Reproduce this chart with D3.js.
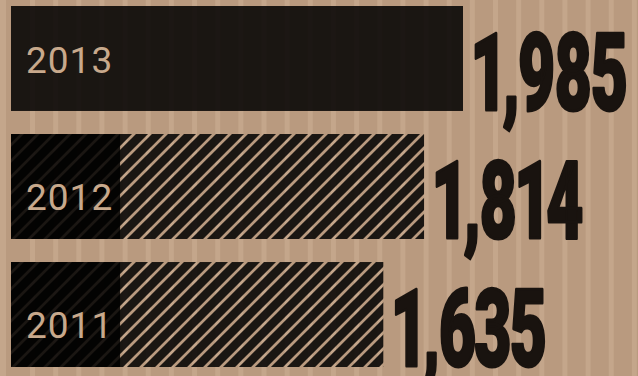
<!DOCTYPE html>
<html>
<head>
<meta charset="utf-8">
<script src="https://cdn.jsdelivr.net/npm/d3@7"></script>
<style>
  html, body { margin: 0; padding: 0; background: #b99a7f; }
  svg { display: block; }
</style>
</head>
<body>
<svg id="chart" width="638" height="376"></svg>
<script>
// Yearly totals, newest first
const years = ["2013", "2012", "2011"];
const totals = [1985, 1814, 1635];
// Fill style per year: the latest year is solid, earlier years are hatched
const fillStyles = ["solid", "hatched", "hatched"];
// Value covered by the darker lead-in block on hatched bars
const leadValues = [0, 479, 479];

const W = 638, H = 376;
const svg = d3.select("#chart");

const rows = years.map((year, i) => ({
  year, total: totals[i], style: fillStyles[i], lead: leadValues[i]
}));

const x = d3.scaleLinear().domain([0, 1985]).range([11, 463]);
const y = d3.scaleBand().domain(years).range([6, 367]).paddingInner(0.18).paddingOuter(0);

// Background: tan board with lighter vertical slats
svg.append("rect").attr("width", W).attr("height", H).attr("fill", "#b99a7f");
const slats = [0].concat(d3.range(30, W, 23.15));
svg.append("g").selectAll("rect").data(slats).join("rect")
  .attr("x", d => d)
  .attr("y", 0)
  .attr("width", (d, i) => i === 0 ? 6 : 5)
  .attr("height", H)
  .attr("fill", "#c4a68b");

// Diagonal hatching: translucent dark "/" stripes with tan gaps, 16px period
const defs = svg.append("defs");
const hatch = defs.append("pattern")
  .attr("id", "hatch")
  .attr("patternUnits", "userSpaceOnUse")
  .attr("x", 4)
  .attr("width", 16)
  .attr("height", 16);
hatch.append("path")
  .attr("d", "M-8,8 L8,-8 M-8,24 L24,-8 M8,24 L24,8")
  .attr("fill", "none")
  .attr("stroke", "#000")
  .attr("stroke-opacity", 0.86)
  .attr("stroke-width", 8.6);

const bars = svg.append("g");

bars.selectAll("rect.bar").data(rows).join("rect")
  .attr("class", "bar")
  .attr("x", x(0))
  .attr("y", d => y(d.year))
  .attr("width", d => x(d.total) - x(0))
  .attr("height", y.bandwidth())
  .attr("fill", d => d.style === "solid" ? "#000" : "url(#hatch)")
  .attr("fill-opacity", d => d.style === "solid" ? 0.86 : 1);

bars.selectAll("rect.lead").data(rows.filter(d => d.lead > 0)).join("rect")
  .attr("class", "lead")
  .attr("x", x(0))
  .attr("y", d => y(d.year))
  .attr("width", d => x(d.lead) - x(0))
  .attr("height", y.bandwidth())
  .attr("fill", "#000")
  .attr("fill-opacity", 0.86);

// Year labels inside the bars
svg.append("g").selectAll("text").data(rows).join("text")
  .attr("x", 26)
  .attr("y", d => y(d.year) + y.bandwidth() / 2 + (d.style === "solid" ? 15 : 23))
  .attr("font-family", "Roboto, 'Noto Sans', sans-serif")
  .attr("font-size", 37)
  .attr("letter-spacing", 1)
  .attr("fill", "#c8a98c")
  .text(d => d.year);

// Big condensed value labels at the bar ends
const fmt = d3.format(",");
svg.append("g").selectAll("text").data(rows).join("text")
  .attr("transform", d => `translate(${x(d.total) + 9},${y(d.year) + y.bandwidth() - 1}) scale(0.6,1)`)
  .attr("font-family", "Roboto, 'Liberation Sans', sans-serif")
  .attr("font-weight", 900)
  .attr("font-size", 107)
  .style("font-variant-numeric", "proportional-nums")
  .attr("fill", "#19130f")
  .attr("stroke", "#19130f")
  .attr("stroke-width", 3)
  .attr("stroke-linejoin", "round")
  .attr("letter-spacing", -3)
  .text(d => fmt(d.total));
</script>
</body>
</html>
